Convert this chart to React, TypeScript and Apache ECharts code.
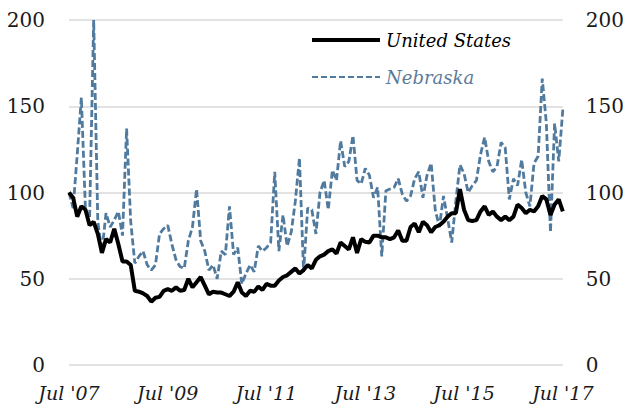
import React, { useEffect, useRef } from "react";
import * as echarts from "echarts";

const monthNames = ["Jan", "Feb", "Mar", "Apr", "May", "Jun", "Jul", "Aug", "Sep", "Oct", "Nov", "Dec"];
// Monthly categories Jul 2007 .. Jul 2017
const categories: string[] = [];
for (let k = 0; k <= 120; k++) {
  const m = (6 + k) % 12;
  const y = 2007 + Math.floor((6 + k) / 12);
  categories.push(`${monthNames[m]} '${String(y).slice(2)}`);
}

const unitedStates = [
  100, 97, 86, 92, 90, 81, 83, 76, 65, 73, 71, 79, 70, 60, 60, 58, 43, 42.5, 41.5, 40,
  36.7, 39, 39.5, 43, 44, 43, 45, 43, 43.5, 50, 45, 48, 51, 46, 41, 42.5, 42, 42, 41, 40,
  42.5, 48, 42, 40, 43, 42.5, 45.5, 43.5, 47, 46, 46, 49, 51, 52, 54, 56, 53, 55, 58, 56,
  61, 63, 64, 66, 67, 64.6, 71, 69, 67, 74, 65, 73, 71.4, 71, 75, 75, 74, 74, 73, 74,
  78, 72, 72, 80, 82, 77, 83, 81, 77, 80, 81, 83, 86, 88, 88, 102, 90, 84, 83.5, 84,
  89, 92, 87, 89, 86, 84, 86, 84, 86, 93, 91, 88, 90, 89, 92, 98, 96, 87, 93, 96, 89,
];

const nebraska = [
  100, 91, 122, 155, 90, 85, 200, 83, 66, 88, 80, 84, 89, 75, 137, 83, 59, 63, 66, 58,
  55, 58, 76, 79, 81, 70, 61, 57, 56, 72, 80, 102, 72, 66, 55, 58, 50, 66, 64, 92,
  64, 68, 47, 53, 58, 54, 69, 66, 68, 71, 112, 66, 87, 69, 77, 95, 120, 54, 91, 90,
  76, 100, 107, 90, 113, 107, 130, 115, 118, 133, 107, 105, 114, 110, 97, 103, 63, 101, 102, 103,
  108, 99, 95, 98, 108, 112, 97, 110, 117, 90, 80, 98, 85, 71, 95, 116, 111, 100, 104, 107,
  122, 132, 118, 112, 115, 129, 126, 96, 108, 104, 119, 100, 92, 117, 121, 166, 140, 77, 140, 118,
  148,
];

const yTicks = [0, 50, 100, 150, 200];

const NEB_COLOR = "#517a9f";
const SERIF = "DejaVu Serif";

export default function App() {
  const ref = useRef<HTMLDivElement>(null);
  useEffect(() => {
    document.body.style.margin = "0";
    if (!ref.current) return;
    const chart = echarts.init(ref.current, null, { renderer: "svg" });
    const yAxisBase = {
      type: "value" as const,
      min: yTicks[0],
      max: yTicks[yTicks.length - 1],
      interval: 50,
      axisLine: { show: false },
      axisTick: { show: false },
      axisLabel: { fontFamily: SERIF, fontSize: 20, color: "#1a1a1a" },
    };
    chart.setOption({
      animation: false,
      backgroundColor: "#ffffff",
      textStyle: { fontFamily: SERIF },
      grid: { left: 69, right: 60, top: 20, bottom: 47, containLabel: false },
      xAxis: {
        type: "category",
        data: categories,
        boundaryGap: false,
        axisLine: { show: false },
        axisTick: { show: false },
        splitLine: { show: false },
        axisLabel: {
          interval: 23,
          fontFamily: SERIF,
          fontStyle: "italic",
          fontSize: 19,
          color: "#1a1a1a",
          margin: 18,
        },
      },
      yAxis: [
        {
          ...yAxisBase,
          position: "left",
          axisLabel: { ...yAxisBase.axisLabel, margin: 24 },
          splitLine: { show: true, lineStyle: { color: "#d9d9d9", width: 1.5 } },
        },
        {
          ...yAxisBase,
          position: "right",
          axisLabel: { ...yAxisBase.axisLabel, margin: 23 },
          splitLine: { show: false },
        },
      ],
      series: [
        {
          name: "Nebraska",
          type: "line",
          data: nebraska,
          symbol: "none",
          lineStyle: { color: NEB_COLOR, width: 2.8, type: [7, 3] },
          z: 2,
        },
        {
          name: "United States",
          type: "line",
          data: unitedStates,
          symbol: "none",
          lineStyle: { color: "#000000", width: 4 },
          z: 3,
        },
      ],
      graphic: [
        {
          type: "line",
          shape: { x1: 312, y1: 40, x2: 380, y2: 40 },
          style: { stroke: "#000000", lineWidth: 4 },
        },
        {
          type: "text",
          x: 386,
          y: 40,
          style: {
            text: "United States",
            fontFamily: SERIF,
            fontStyle: "italic",
            fontSize: 18,
            fill: "#000000",
            verticalAlign: "middle",
          },
        },
        {
          type: "line",
          shape: { x1: 312, y1: 77, x2: 380, y2: 77 },
          style: { stroke: NEB_COLOR, lineWidth: 2, lineDash: [6, 3] },
        },
        {
          type: "text",
          x: 386,
          y: 77,
          style: {
            text: "Nebraska",
            fontFamily: SERIF,
            fontStyle: "italic",
            fontSize: 18,
            fill: "#5b7a98",
            verticalAlign: "middle",
          },
        },
      ],
    });
    return () => chart.dispose();
  }, []);
  return <div ref={ref} style={{ width: 627, height: 412 }} />;
}
